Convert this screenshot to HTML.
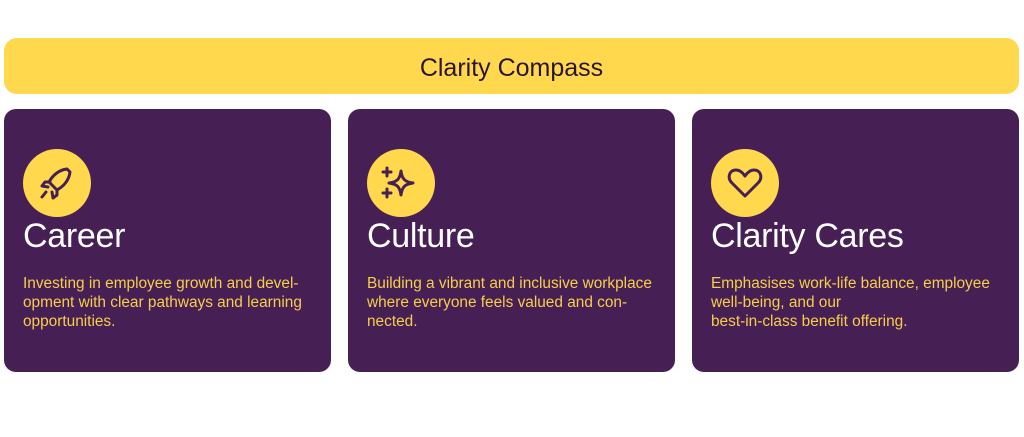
<!DOCTYPE html>
<html><head><style>
body{margin:0;width:1024px;height:437px;background:#fff;position:relative;font-family:"Liberation Sans",sans-serif;overflow:hidden}
.banner{position:absolute;left:4px;top:38px;width:1015px;height:56px;background:#ffd84d;border-radius:13px;text-align:center;line-height:60px;font-size:25px;color:#2a1530}
.card{position:absolute;top:109px;width:327px;height:263px;background:#461f54;border-radius:12px}
.ic{position:absolute;left:19px;top:40px;width:68px;height:68px;border-radius:50%;background:#ffd84d}
.ic svg{position:absolute;left:14px;top:14px}
.t{position:absolute;left:19px;top:108px;font-size:34px;color:#fff;letter-spacing:-0.3px}
.d{position:absolute;left:19px;top:165px;width:310px;font-size:15.4px;line-height:19px;color:#f6cf4a;white-space:nowrap}
</style></head><body>
<div class="banner">Clarity Compass</div>
<div class="card" style="left:4px">
<div class="ic"><svg width="40" height="40" viewBox="0 0 40 40" fill="none" stroke="#461f54" stroke-width="3" stroke-linecap="round" stroke-linejoin="round"><path d="M30 6 C22 7 16 12 12 19 L20 27 C27 23 32 17 33 9 Z"/><path d="M13 19 L8 19 L5 23 L11 24"/><path d="M20 27 L20 32 L16 35 L15 29"/><path d="M9 29 L5 34"/></svg></div>
<div class="t">Career</div>
<div class="d">Investing in employee growth and devel-<br>opment with clear pathways and learning<br>opportunities.</div></div>
<div class="card" style="left:348px">
<div class="ic"><svg width="40" height="40" viewBox="0 0 40 40" fill="none" stroke="#461f54" stroke-width="3" stroke-linecap="round" stroke-linejoin="round"><path d="M20 8 C21 16 24 19 32 20 C24 21 21 24 20 32 C19 24 16 21 8 20 C16 19 19 16 20 8 Z"/><path d="M6 5 V13 M2 9 H10 M6 26 V34 M2 30 H10"/></svg></div>
<div class="t">Culture</div>
<div class="d">Building a vibrant and inclusive workplace<br>where everyone feels valued and con-<br>nected.</div></div>
<div class="card" style="left:692px">
<div class="ic"><svg width="40" height="40" viewBox="0 0 40 40" fill="none" stroke="#461f54" stroke-width="3" stroke-linejoin="round"><path d="M20 33 L7 20 C2 15 4 7 11 7 C15 7 18 10 20 13 C22 10 25 7 29 7 C36 7 38 15 33 20 Z"/></svg></div>
<div class="t">Clarity Cares</div>
<div class="d">Emphasises work-life balance, employee<br>well-being, and our<br>best-in-class benefit offering.</div></div>
</body></html>
